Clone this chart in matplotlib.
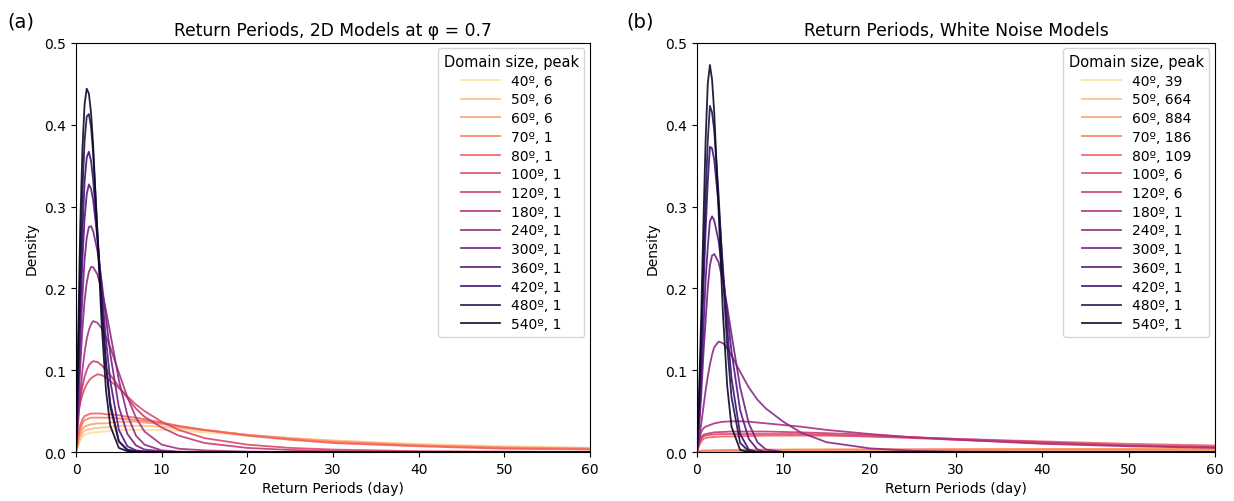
import numpy as np
import matplotlib
matplotlib.use("Agg")
import matplotlib.pyplot as plt

days = [0, 0.25, 0.5, 0.75, 1, 1.25, 1.5, 1.75, 2, 2.5, 3, 3.5, 4, 5, 6, 7, 8,
        10, 12, 15, 20, 25, 30, 40, 50, 60]

domain_sizes = [40, 50, 60, 70, 80, 100, 120, 180, 240, 300, 360, 420, 480, 540]
peaks_2d = [6, 6, 6, 1, 1, 1, 1, 1, 1, 1, 1, 1, 1, 1]
peaks_wn = [39, 664, 884, 186, 109, 6, 6, 1, 1, 1, 1, 1, 1, 1]

# (a) 2D models at phi = 0.7
d2_40 = [0, .007, .014, .019, .021, .022, .023, .023, .024, .024, .025, .025, .026,
         .027, .027, .027, .027, .027, .026, .024, .020, .017, .014, .010, .007, .005]
d2_50 = [0, .009, .018, .023, .026, .027, .028, .028, .029, .029, .030, .030, .031,
         .032, .032, .032, .032, .031, .029, .026, .021, .017, .014, .009, .006, .005]
d2_60 = [0, .012, .022, .028, .031, .032, .033, .034, .034, .035, .035, .035, .036,
         .037, .037, .037, .036, .034, .031, .027, .021, .017, .013, .008, .006, .004]
d2_70 = [0, .016, .028, .035, .039, .040, .041, .042, .042, .042, .042, .042, .042,
         .041, .040, .039, .038, .035, .031, .027, .021, .016, .012, .008, .005, .004]
d2_80 = [0, .020, .033, .040, .044, .045, .046, .047, .047, .047, .047, .046, .046,
         .045, .043, .042, .040, .036, .032, .027, .020, .015, .011, .007, .004, .003]
d2_100 = [.035, .048, .060, .070, .077, .083, .087, .090, .092, .095, .094, .091, .087,
          .078, .068, .058, .050, .037, .027, .017, .009, .005, .003, .001, .0005, 0]
d2_120 = [.030, .048, .065, .080, .092, .100, .106, .109, .111, .110, .106, .100, .094,
          .080, .066, .053, .043, .030, .020, .011, .005, .0025, .0012, .0003, 0, 0]
d2_180 = [0, .035, .070, .100, .122, .138, .149, .156, .160, .158, .151, .141, .128,
          .097, .067, .042, .025, .009, .004, .002, .0005, 0, 0, 0, 0, 0]
d2_240 = [0, .050, .105, .150, .185, .207, .220, .226, .226, .217, .198, .173, .145,
          .088, .045, .020, .009, .002, .0005, 0, 0, 0, 0, 0, 0, 0]
d2_300 = [0, .065, .135, .190, .235, .262, .275, .276, .270, .246, .208, .164, .120,
          .055, .022, .008, .003, .001, 0, 0, 0, 0, 0, 0, 0, 0]
d2_360 = [0, .080, .165, .235, .285, .315, .327, .322, .308, .261, .199, .137, .087,
          .027, .007, .002, .001, 0, 0, 0, 0, 0, 0, 0, 0, 0]
d2_420 = [0, .090, .190, .270, .330, .360, .367, .356, .333, .264, .182, .110, .060,
          .013, .003, .001, 0, 0, 0, 0, 0, 0, 0, 0, 0, 0]
d2_480 = [0, .110, .230, .320, .380, .410, .413, .398, .365, .270, .178, .105, .055,
          .013, .002, 0, 0, 0, 0, 0, 0, 0, 0, 0, 0, 0]
d2_540 = [0, .140, .280, .370, .425, .444, .438, .415, .375, .265, .155, .075, .032,
          .005, .001, 0, 0, 0, 0, 0, 0, 0, 0, 0, 0, 0]

# (b) white noise models
wn_40 = [0, .0003, .0005, .0007, .0008, .0009, .001, .001, .001, .0011, .0012, .0012,
         .0013, .0014, .0015, .0016, .0017, .0019, .002, .0023, .0027, .003, .0033,
         .0037, .0039, .004]
wn_50 = [0, .0002, .0004, .0005, .0006, .0006, .0007, .0007, .0007, .0008, .0008,
         .0008, .0008, .0009, .0009, .0009, .001, .001, .001, .0011, .0011, .0012,
         .0012, .0013, .0013, .0013]
wn_60 = [0, .0003, .0005, .0006, .0007, .0008, .0008, .0008, .0009, .0009, .0009, .001,
         .001, .001, .0011, .0011, .0011, .0012, .0012, .0013, .0013, .0014, .0014,
         .0015, .0015, .0015]
wn_70 = [0, .001, .0015, .0018, .002, .002, .002, .0021, .0022, .0023, .0024, .0025,
         .0026, .0027, .0028, .0029, .003, .003, .0031, .0032, .0033, .0034, .0035,
         .0035, .0035, .0034]
wn_80 = [0, .008, .013, .016, .017, .0175, .018, .018, .0185, .0187, .019, .019, .019,
         .0193, .0195, .0197, .020, .020, .020, .020, .019, .018, .016, .013, .010, .008]
wn_100 = [0, .010, .016, .019, .020, .0205, .021, .0212, .0215, .0218, .022, .022, .022,
          .022, .022, .022, .022, .022, .0218, .021, .019, .017, .015, .011, .008, .006]
wn_120 = [0, .012, .018, .021, .022, .0225, .023, .0235, .024, .0243, .0245, .0248, .025,
          .025, .025, .025, .025, .0245, .024, .023, .021, .018, .016, .012, .008, .006]
wn_180 = [0, .015, .025, .029, .031, .032, .033, .034, .035, .036, .037, .0372, .0375,
          .0375, .037, .036, .035, .033, .031, .027, .022, .018, .015, .010, .007, .005]
wn_240 = [0, .015, .035, .055, .075, .092, .107, .119, .128, .135, .133, .127, .118,
          .098, .079, .064, .053, .037, .024, .012, .0045, .0015, .0005, 0, 0, 0]
wn_300 = [0, .030, .070, .120, .160, .200, .228, .240, .242, .232, .209, .178, .144,
          .079, .035, .012, .003, 0, 0, 0, 0, 0, 0, 0, 0, 0]
wn_360 = [0, .040, .090, .150, .210, .250, .282, .288, .283, .258, .217, .170, .123,
          .051, .016, .003, 0, 0, 0, 0, 0, 0, 0, 0, 0, 0]
wn_420 = [0, .050, .120, .200, .270, .330, .373, .371, .357, .303, .227, .152, .090,
          .022, .003, 0, 0, 0, 0, 0, 0, 0, 0, 0, 0, 0]
wn_480 = [0, .060, .140, .230, .310, .380, .423, .415, .393, .315, .217, .130, .067,
          .011, .001, 0, 0, 0, 0, 0, 0, 0, 0, 0, 0, 0]
wn_540 = [0, .075, .170, .280, .380, .450, .473, .455, .415, .296, .171, .081, .031,
          .0025, 0, 0, 0, 0, 0, 0, 0, 0, 0, 0, 0, 0]

curves_2d = [d2_40, d2_50, d2_60, d2_70, d2_80, d2_100, d2_120, d2_180, d2_240,
             d2_300, d2_360, d2_420, d2_480, d2_540]
curves_wn = [wn_40, wn_50, wn_60, wn_70, wn_80, wn_100, wn_120, wn_180, wn_240,
             wn_300, wn_360, wn_420, wn_480, wn_540]

n = len(domain_sizes)
colors = plt.get_cmap("magma_r")(np.linspace(1, n, n) / (n + 1))

fig = plt.figure(figsize=(12.34, 5.02), dpi=100)
ax1 = fig.add_axes([0.0616, 0.0976, 0.4165, 0.815])
ax2 = fig.add_axes([0.5648, 0.0976, 0.4198, 0.815])

panels = [
    (ax1, curves_2d, peaks_2d, "Return Periods, 2D Models at \u03c6 = 0.7"),
    (ax2, curves_wn, peaks_wn, "Return Periods, White Noise Models"),
]

for ax, curves, peaks, title in panels:
    for size, pk, ys, c in zip(domain_sizes, peaks, curves, colors):
        ax.plot(days, ys, color=c, lw=1.3, alpha=0.9, label=f"{size}\u00ba, {pk}")
    ax.set_xlim(0, 60)
    ax.set_ylim(0, 0.5)
    ax.set_xlabel("Return Periods (day)")
    ax.set_ylabel("Density")
    ax.set_title(title, fontsize=12.3)
    ax.legend(title="Domain size, peak", loc="upper right", fontsize=10,
              title_fontsize=10.5, labelspacing=0.34, handlelength=2.8,
              borderaxespad=0.4)

fig.text(0.006, 0.945, "(a)", fontsize=14)
fig.text(0.508, 0.945, "(b)", fontsize=14)

fig.savefig("out.png", dpi=100)
